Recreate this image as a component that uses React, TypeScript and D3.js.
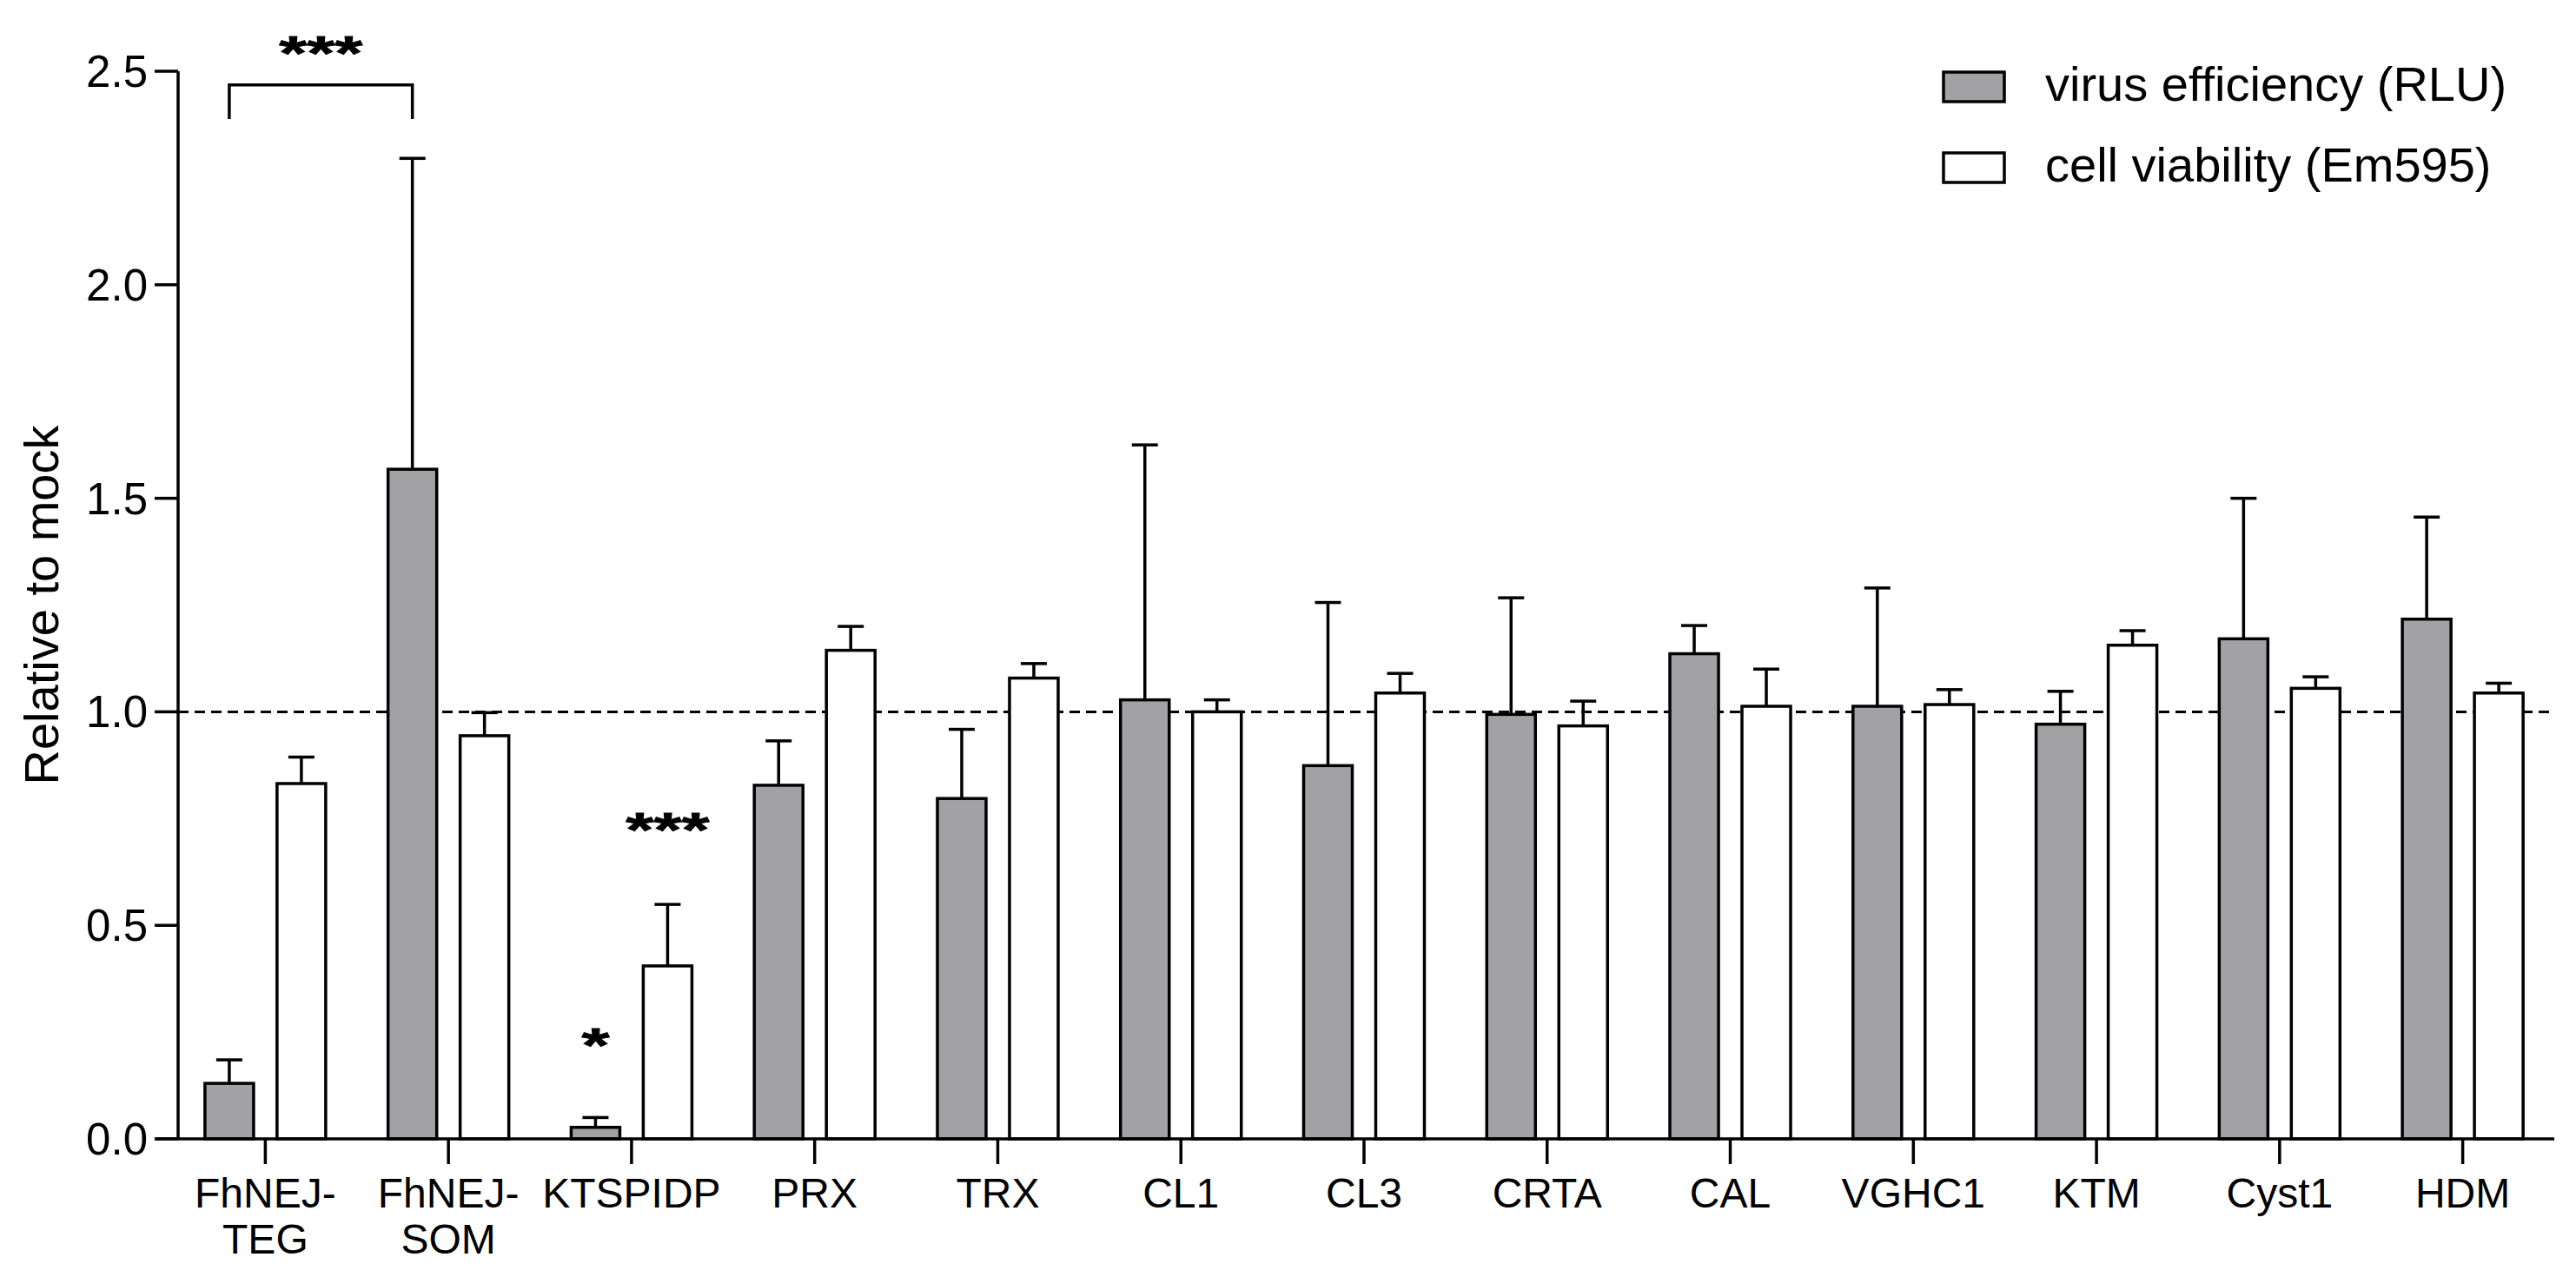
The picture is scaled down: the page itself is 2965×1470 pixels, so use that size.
import { useMemo } from "react";
import { scaleBand, scaleLinear, format } from "d3";

const categories = [
  "FhNEJ-TEG",
  "FhNEJ-SOM",
  "KTSPIDP",
  "PRX",
  "TRX",
  "CL1",
  "CL3",
  "CRTA",
  "CAL",
  "VGHC1",
  "KTM",
  "Cyst1",
  "HDM"
];
const categoryLines = [
  ["FhNEJ-", "TEG"],
  ["FhNEJ-", "SOM"],
  ["KTSPIDP"],
  ["PRX"],
  ["TRX"],
  ["CL1"],
  ["CL3"],
  ["CRTA"],
  ["CAL"],
  ["VGHC1"],
  ["KTM"],
  ["Cyst1"],
  ["HDM"]
];

const seriesKeys = ["virus", "cell"];
const seriesLabels = ["virus efficiency (RLU)", "cell viability (Em595)"];
const seriesFills = ["#a2a2a5", "#ffffff"];

// mean and upper error (SD)
const virusMean = [0.13, 1.568, 0.027, 0.828, 0.797, 1.028, 0.874, 0.994, 1.136, 1.013, 0.971, 1.171, 1.217];
const virusErr = [0.055, 0.728, 0.023, 0.104, 0.162, 0.597, 0.382, 0.273, 0.066, 0.277, 0.077, 0.329, 0.239];
const cellMean = [0.832, 0.944, 0.405, 1.144, 1.079, 1.0, 1.044, 0.967, 1.013, 1.017, 1.156, 1.055, 1.044];
const cellErr = [0.062, 0.054, 0.144, 0.056, 0.034, 0.028, 0.046, 0.058, 0.087, 0.035, 0.034, 0.027, 0.023];

const yTicks = [0, 0.5, 1.0, 1.5, 2.0, 2.5];
const referenceLine = 1.0;

// significance marks (value = baseline height of the label)
const starMarks = [
  { cat: 2, series: 0, value: 0.182, label: "*" },
  { cat: 2, series: 1, value: 0.685, label: "***" }
];
const bracket = { from: 0, to: 1, value: 2.468, leg: 2.388, labelValue: 2.505, label: "***" };

const W = 2965;
const H = 1470;
const FONT = "Arial, 'Liberation Sans', Helvetica, sans-serif";

function Stars({ x, y, label }: { x: number; y: number; label: string }) {
  return (
    <text
      transform={`translate(${x},${y}) scale(1.03,0.7)`}
      fontSize={80}
      fontWeight="bold"
      textAnchor="middle"
      stroke="#000"
      strokeWidth={1.2}
    >
      {label}
    </text>
  );
}

export default function App() {
  const axisX = 205;
  const x = useMemo(() => scaleBand<string>().domain(categories).range([200, 2940]), []);
  const inner = useMemo(
    () => scaleBand<string>().domain(seriesKeys).range([-69.5, 69.5]).paddingInner(0.325),
    []
  );
  const y = useMemo(() => scaleLinear().domain([0, 2.5]).range([1311, 82]), []);
  const fmt = format(".1f");
  const bw = inner.bandwidth();
  const means = [virusMean, cellMean];
  const errs = [virusErr, cellErr];
  const center = (c: string) => (x(c) ?? 0) + x.bandwidth() / 2;
  const barCenter = (ci: number, si: number) => center(categories[ci]) + (inner(seriesKeys[si]) ?? 0) + bw / 2;
  const sw = 3.5;

  const xa = barCenter(bracket.from, 0);
  const xb = barCenter(bracket.to, 0);

  return (
    <svg
      width={W}
      height={H}
      viewBox={`0 0 ${W} ${H}`}
      style={{ position: "absolute", left: 0, top: 0, background: "#fff" }}
      fontFamily={FONT}
    >
      {/* dashed reference line */}
      <line
        x1={axisX}
        x2={2940}
        y1={y(referenceLine)}
        y2={y(referenceLine)}
        stroke="#000"
        strokeWidth={3}
        strokeDasharray="12 7"
      />

      {/* bars and error bars */}
      {categories.map((c, ci) =>
        seriesKeys.map((k, si) => {
          const x0 = center(c) + (inner(k) ?? 0);
          const v = means[si][ci];
          const top = v + errs[si][ci];
          const cx = x0 + bw / 2;
          return (
            <g key={`${c}-${k}`}>
              <line x1={cx} x2={cx} y1={y(v)} y2={y(top)} stroke="#000" strokeWidth={sw} />
              <line x1={cx - 15} x2={cx + 15} y1={y(top)} y2={y(top)} stroke="#000" strokeWidth={sw} />
              <rect
                x={x0}
                y={y(v)}
                width={bw}
                height={y(0) - y(v)}
                fill={seriesFills[si]}
                stroke="#000"
                strokeWidth={sw}
              />
            </g>
          );
        })
      )}

      {/* axes */}
      <line x1={axisX} x2={axisX} y1={y(2.5)} y2={y(0)} stroke="#000" strokeWidth={sw} />
      <line x1={178} x2={2940} y1={y(0)} y2={y(0)} stroke="#000" strokeWidth={sw} />
      {yTicks.map((t) => (
        <g key={t}>
          <line x1={178} x2={axisX} y1={y(t)} y2={y(t)} stroke="#000" strokeWidth={sw} />
          <text x={170} y={y(t) + 18} fontSize={51} textAnchor="end">
            {fmt(t)}
          </text>
        </g>
      ))}
      {categories.map((c, ci) => (
        <g key={c}>
          <line x1={center(c)} x2={center(c)} y1={y(0)} y2={y(0) + 29} stroke="#000" strokeWidth={sw} />
          {categoryLines[ci].map((ln, li) => (
            <text key={li} x={center(c)} y={1390 + li * 53} fontSize={48} textAnchor="middle">
              {ln}
            </text>
          ))}
        </g>
      ))}
      <text
        transform={`translate(67, ${(y(0) + y(2.5)) / 2}) rotate(-90)`}
        fontSize={56}
        textAnchor="middle"
      >
        Relative to mock
      </text>

      {/* significance */}
      <path
        d={`M${xa},${y(bracket.leg)}V${y(bracket.value)}H${xb}V${y(bracket.leg)}`}
        fill="none"
        stroke="#000"
        strokeWidth={sw}
      />
      <Stars x={(xa + xb) / 2} y={y(bracket.labelValue)} label={bracket.label} />
      {starMarks.map((m, i) => (
        <Stars key={i} x={barCenter(m.cat, m.series)} y={y(m.value)} label={m.label} />
      ))}

      {/* legend */}
      {seriesKeys.map((k, i) => (
        <g key={k}>
          <rect x={2237} y={83 + i * 93} width={70} height={34} fill={seriesFills[i]} stroke="#000" strokeWidth={sw} />
          <text x={2354} y={116 + i * 93} fontSize={56}>
            {seriesLabels[i]}
          </text>
        </g>
      ))}
    </svg>
  );
}
